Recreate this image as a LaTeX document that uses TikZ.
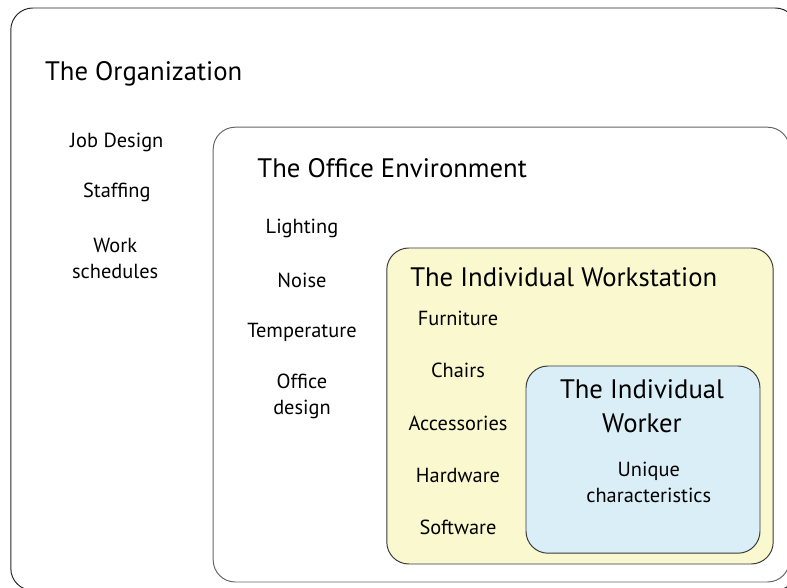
\documentclass[tikz,border=0pt]{standalone}
\usepackage{fontspec}
\setmainfont{PT Sans}
\usetikzlibrary{positioning}
\definecolor{frame}{HTML}{3A3A3A}
\definecolor{stationfill}{HTML}{FAF8CE}
\definecolor{workerfill}{HTML}{D9EEF6}

\begin{document}
\begin{tikzpicture}[
    level/.style={draw=frame, line width=0.7pt, rounded corners=0.55cm},
    heading/.style={anchor=west, inner sep=0pt, font=\fontsize{19}{24}\selectfont},
    factor/.style={align=center, inner sep=0pt, font=\fontsize{14.5}{18.5}\selectfont},
]
\useasboundingbox (0,0) rectangle (19.675,-14.7);

% Nested levels
\draw[level, draw=black!85] (0.27,-0.2) rectangle (19.93,-14.76);
\draw[level, draw=black!60] (5.33,-3.18) rectangle (19.74,-14.55);
\draw[level, fill=stationfill] (9.67,-6.2) rectangle (19.33,-14.1);
\draw[level, fill=workerfill] (13.15,-9.15) rectangle (19.0,-13.83);

% The organization
\node[heading] (org) at (1.12,-1.85) {The Organization};
\node[factor] (jobdesign) at (2.92,-3.55) {Job Design};
\node[factor] (staffing) at (2.92,-4.8) {Staffing};
\node[factor] (schedules) at (2.88,-6.45) {Work\\schedules};

% The office environment
\node[heading] (office) at (6.43,-4.2) {The Office Environment};
\node[factor] (lighting) at (7.55,-5.7) {Lighting};
\node[factor] (noise) at (7.55,-7.0) {Noise};
\node[factor] (temperature) at (7.55,-8.3) {Temperature};
\node[factor] (officedesign) at (7.55,-9.9) {Office\\design};

% The individual workstation
\node[heading] (station) at (10.25,-6.92) {The Individual Workstation};
\node[factor] (furniture) at (11.45,-7.95) {Furniture};
\node[factor] (chairs) at (11.45,-9.25) {Chairs};
\node[factor] (accessories) at (11.45,-10.58) {Accessories};
\node[factor] (hardware) at (11.45,-11.88) {Hardware};
\node[factor] (software) at (11.45,-13.18) {Software};

% The individual worker
\node[factor, font=\fontsize{19}{24}\selectfont] (worker) at (16.05,-10.15) {The Individual\\Worker};
\node[factor] (unique) at (16.22,-12.05) {Unique\\characteristics};
\end{tikzpicture}
\end{document}
